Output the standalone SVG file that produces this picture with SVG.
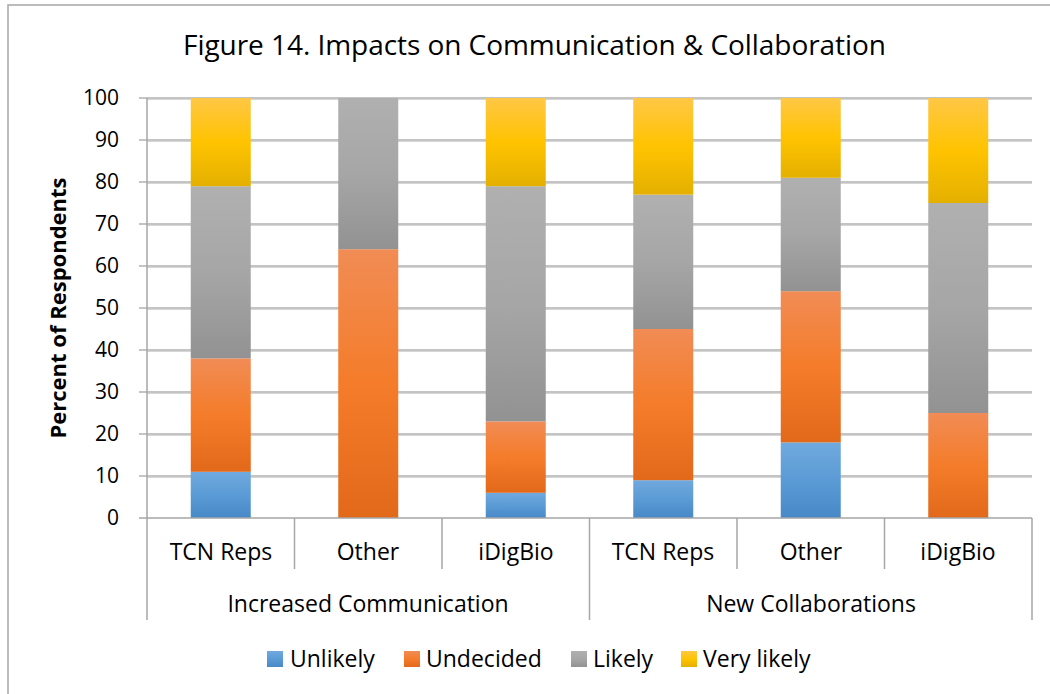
<svg xmlns="http://www.w3.org/2000/svg" width="1050" height="694" viewBox="0 0 1050 694">
<style>
text{font-family:"Open Sans","Liberation Sans",sans-serif;fill:#000}
.tick{font-size:21px;text-anchor:end}
.cat{font-size:23px;text-anchor:middle}
.leg{font-size:23px}
.grid{stroke:#898989;stroke-width:1.2}
.gsh{stroke:#d6d6d6;stroke-width:1}
.ax{stroke:#a6a6a6;stroke-width:1.5;fill:none}
</style>
<defs>
<linearGradient id="gB" x1="0" y1="0" x2="0" y2="1"><stop offset="0" stop-color="#70a9de"/><stop offset="0.5" stop-color="#5b9bd5"/><stop offset="1" stop-color="#4788c7"/></linearGradient>
<linearGradient id="gO" x1="0" y1="0" x2="0" y2="1"><stop offset="0" stop-color="#f18c55"/><stop offset="0.5" stop-color="#f47c2a"/><stop offset="1" stop-color="#e2691a"/></linearGradient>
<linearGradient id="gG" x1="0" y1="0" x2="0" y2="1"><stop offset="0" stop-color="#b0b0b0"/><stop offset="0.5" stop-color="#a6a6a6"/><stop offset="1" stop-color="#929292"/></linearGradient>
<linearGradient id="gY" x1="0" y1="0" x2="0" y2="1"><stop offset="0" stop-color="#ffc746"/><stop offset="0.5" stop-color="#ffc300"/><stop offset="1" stop-color="#e4b000"/></linearGradient>
</defs>
<rect x="0" y="0" width="1050" height="694" fill="#fff"/>
<rect x="8" y="5" width="1100" height="800" fill="none" stroke="#a6a6a6" stroke-width="1.5"/>
<text x="534.5" y="55" font-size="28" text-anchor="middle" textLength="703">Figure 14. Impacts on Communication &amp; Collaboration</text>
<g id="gridlines">
<line class="gsh" x1="147" y1="99.5" x2="1032" y2="99.5"/><line class="grid" x1="139" y1="98" x2="1032" y2="98"/>
<line class="gsh" x1="147" y1="141.5" x2="1032" y2="141.5"/><line class="grid" x1="139" y1="140" x2="1032" y2="140"/>
<line class="gsh" x1="147" y1="183.5" x2="1032" y2="183.5"/><line class="grid" x1="139" y1="182" x2="1032" y2="182"/>
<line class="gsh" x1="147" y1="225.5" x2="1032" y2="225.5"/><line class="grid" x1="139" y1="224" x2="1032" y2="224"/>
<line class="gsh" x1="147" y1="267.5" x2="1032" y2="267.5"/><line class="grid" x1="139" y1="266" x2="1032" y2="266"/>
<line class="gsh" x1="147" y1="309.5" x2="1032" y2="309.5"/><line class="grid" x1="139" y1="308" x2="1032" y2="308"/>
<line class="gsh" x1="147" y1="351.5" x2="1032" y2="351.5"/><line class="grid" x1="139" y1="350" x2="1032" y2="350"/>
<line class="gsh" x1="147" y1="393.5" x2="1032" y2="393.5"/><line class="grid" x1="139" y1="392" x2="1032" y2="392"/>
<line class="gsh" x1="147" y1="435.5" x2="1032" y2="435.5"/><line class="grid" x1="139" y1="434" x2="1032" y2="434"/>
<line class="gsh" x1="147" y1="477.5" x2="1032" y2="477.5"/><line class="grid" x1="139" y1="476" x2="1032" y2="476"/>
</g>
<g id="ticklabels">
<text class="tick" x="119" y="105">100</text>
<text class="tick" x="119" y="147">90</text>
<text class="tick" x="119" y="189">80</text>
<text class="tick" x="119" y="231">70</text>
<text class="tick" x="119" y="273">60</text>
<text class="tick" x="119" y="315">50</text>
<text class="tick" x="119" y="357">40</text>
<text class="tick" x="119" y="399">30</text>
<text class="tick" x="119" y="441">20</text>
<text class="tick" x="119" y="483">10</text>
<text class="tick" x="119" y="525">0</text>
</g>
<text x="66" y="308" font-size="22" font-weight="bold" text-anchor="middle" transform="rotate(-90 66 308)">Percent of Respondents</text>
<g id="bar-ic-tcn">
<rect x="190.75" y="471.8" width="60" height="46.2" fill="url(#gB)"/>
<rect x="190.75" y="358.4" width="60" height="113.4" fill="url(#gO)"/>
<rect x="190.75" y="186.2" width="60" height="172.2" fill="url(#gG)"/>
<rect x="190.75" y="98" width="60" height="88.2" fill="url(#gY)"/>
</g>
<g id="bar-ic-other">
<rect x="338.25" y="249.2" width="60" height="268.8" fill="url(#gO)"/>
<rect x="338.25" y="98" width="60" height="151.2" fill="url(#gG)"/>
</g>
<g id="bar-ic-idigbio">
<rect x="485.75" y="492.8" width="60" height="25.2" fill="url(#gB)"/>
<rect x="485.75" y="421.4" width="60" height="71.4" fill="url(#gO)"/>
<rect x="485.75" y="186.2" width="60" height="235.2" fill="url(#gG)"/>
<rect x="485.75" y="98" width="60" height="88.2" fill="url(#gY)"/>
</g>
<g id="bar-nc-tcn">
<rect x="633.25" y="480.2" width="60" height="37.8" fill="url(#gB)"/>
<rect x="633.25" y="329" width="60" height="151.2" fill="url(#gO)"/>
<rect x="633.25" y="194.6" width="60" height="134.4" fill="url(#gG)"/>
<rect x="633.25" y="98" width="60" height="96.6" fill="url(#gY)"/>
</g>
<g id="bar-nc-other">
<rect x="780.75" y="442.4" width="60" height="75.6" fill="url(#gB)"/>
<rect x="780.75" y="291.2" width="60" height="151.2" fill="url(#gO)"/>
<rect x="780.75" y="177.8" width="60" height="113.4" fill="url(#gG)"/>
<rect x="780.75" y="98" width="60" height="79.8" fill="url(#gY)"/>
</g>
<g id="bar-nc-idigbio">
<rect x="928.25" y="413" width="60" height="105" fill="url(#gO)"/>
<rect x="928.25" y="203" width="60" height="210" fill="url(#gG)"/>
<rect x="928.25" y="98" width="60" height="105" fill="url(#gY)"/>
</g>
<g id="axes">
<line class="ax" x1="147" y1="98" x2="147" y2="620"/>
<line class="ax" x1="139" y1="518" x2="1032" y2="518"/>
<line class="ax" x1="294.5" y1="518" x2="294.5" y2="569"/>
<line class="ax" x1="442" y1="518" x2="442" y2="569"/>
<line class="ax" x1="589.5" y1="518" x2="589.5" y2="620"/>
<line class="ax" x1="737" y1="518" x2="737" y2="569"/>
<line class="ax" x1="884.5" y1="518" x2="884.5" y2="569"/>
<line class="ax" x1="1032" y1="518" x2="1032" y2="620"/>
</g>
<g id="catlabels">
<text class="cat" x="221" y="560">TCN Reps</text>
<text class="cat" x="368" y="560">Other</text>
<text class="cat" x="516" y="560">iDigBio</text>
<text class="cat" x="663" y="560">TCN Reps</text>
<text class="cat" x="811" y="560">Other</text>
<text class="cat" x="958" y="560">iDigBio</text>
<text class="cat" x="368" y="612">Increased Communication</text>
<text class="cat" x="811" y="612">New Collaborations</text>
</g>
<g id="legend">
<rect x="267" y="651" width="16" height="16" fill="url(#gB)"/><text class="leg" x="290" y="667">Unlikely</text>
<rect x="404" y="651" width="16" height="16" fill="url(#gO)"/><text class="leg" x="426" y="667">Undecided</text>
<rect x="571" y="651" width="16" height="16" fill="url(#gG)"/><text class="leg" x="593" y="667">Likely</text>
<rect x="681" y="651" width="16" height="16" fill="url(#gY)"/><text class="leg" x="703" y="667">Very likely</text>
</g>
</svg>
